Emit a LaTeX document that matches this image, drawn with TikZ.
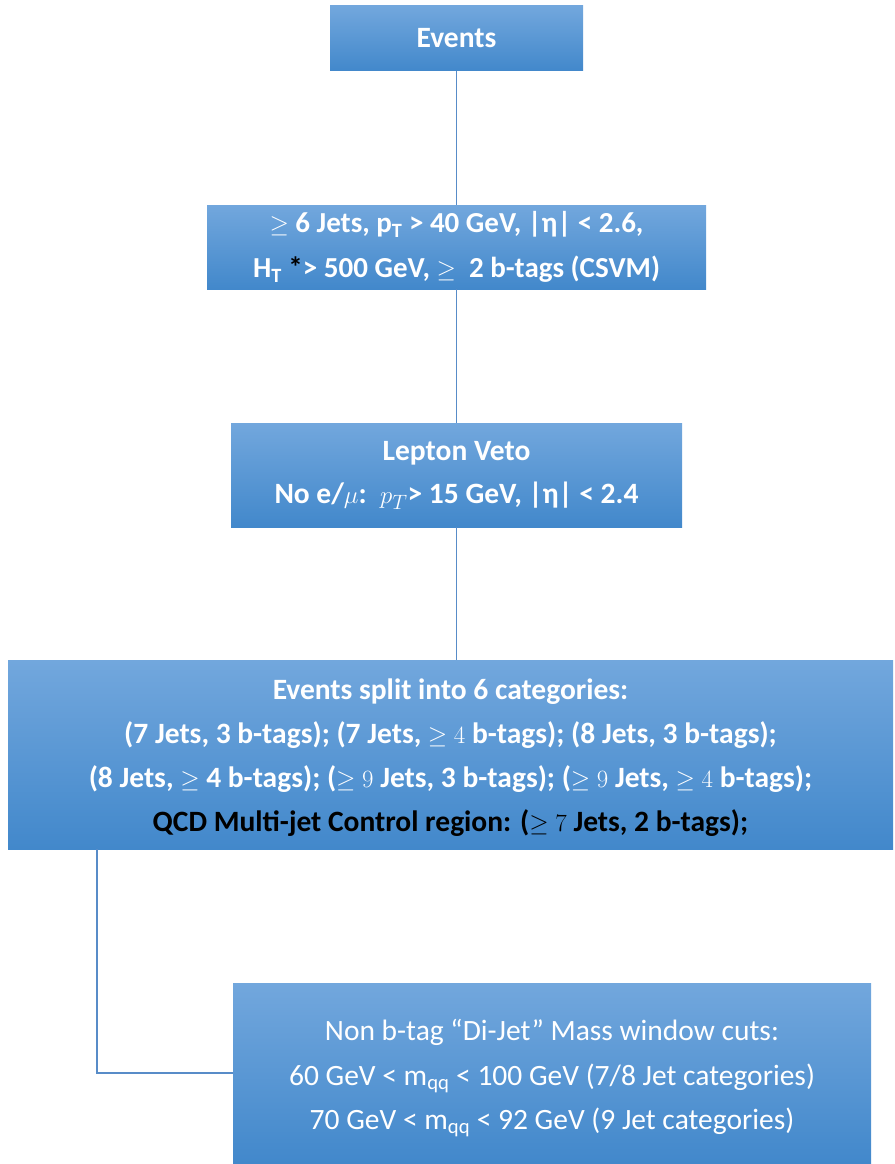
\documentclass[tikz,border=0pt]{standalone}
\usepackage{fontspec}
\setmainfont{Carlito}
\usepackage{amsmath}
\definecolor{gtop}{RGB}{114,167,221}
\definecolor{gmid}{RGB}{86,153,220}
\definecolor{gbot}{RGB}{66,136,203}
\definecolor{lnc}{RGB}{88,140,200}
\tikzset{
  box/.style={rectangle, inner sep=0pt, top color=gtop, middle color=gmid, bottom color=gbot, text=white, align=center},
  conn/.style={draw=lnc, line width=1.1pt},
}
\begin{document}
\begin{tikzpicture}[x=1pt,y=1pt]
\useasboundingbox (0,0) rectangle (894,-1164);
\node[box, minimum width=253, minimum height=65, font=\fontsize{29.5}{34}\selectfont\bfseries] (ev) at (456.5,-38.5) {Events};
\node[box, minimum width=499, minimum height=84, font=\fontsize{29}{45}\selectfont\bfseries] (cut) at (456.5,-247)
  {$\geq$ 6 Jets, p\textsubscript{T} > 40 GeV, |η| < 2.6,\\
   H\textsubscript{T} \textcolor{black}{*}> 500 GeV, $\geq$\ \ 2 b-tags (CSVM)};
\node[box, minimum width=451, minimum height=104, font=\fontsize{29.5}{43.5}\selectfont\bfseries] (lep) at (456.5,-475)
  {Lepton Veto\\
   No e/$\mu$:\ \ $p_T$> 15 GeV, |η| < 2.4};
\node[box, minimum width=885, minimum height=189, font=\fontsize{29.5}{44}\selectfont\bfseries] (cat) at (450.5,-754.5)
  {\rule{0pt}{27pt}Events split into 6 categories:\\
   (7 Jets, 3 b-tags); (7 Jets, $\geq$ $4$ b-tags); (8 Jets, 3 b-tags);\\
   (8 Jets, $\geq$ 4 b-tags); ($\geq$ $9$ Jets, 3 b-tags); ($\geq$ $9$ Jets, $\geq$ $4$ b-tags);\\
   \textcolor{black}{QCD Multi-jet Control region: ($\geq$ $7$ Jets, 2 b-tags);}};
\node[box, minimum width=638, minimum height=180, font=\fontsize{29.5}{44.5}\selectfont] (mw) at (552,-1073)
  {\rule{0pt}{32pt}Non b-tag “Di-Jet” Mass window cuts:\\
   60 GeV < m\textsubscript{qq} < 100 GeV (7/8 Jet categories)\\
   70 GeV < m\textsubscript{qq} < 92 GeV (9 Jet categories)};
\draw[conn] (ev.south) -- (cut.north);
\draw[conn] (cut.south) -- (lep.north);
\draw[conn] (lep.south) -- (cat.north -| lep.south);
\coordinate (c1) at (97,-849);
\draw[conn] (c1) |- (mw.west);
\end{tikzpicture}
\end{document}
